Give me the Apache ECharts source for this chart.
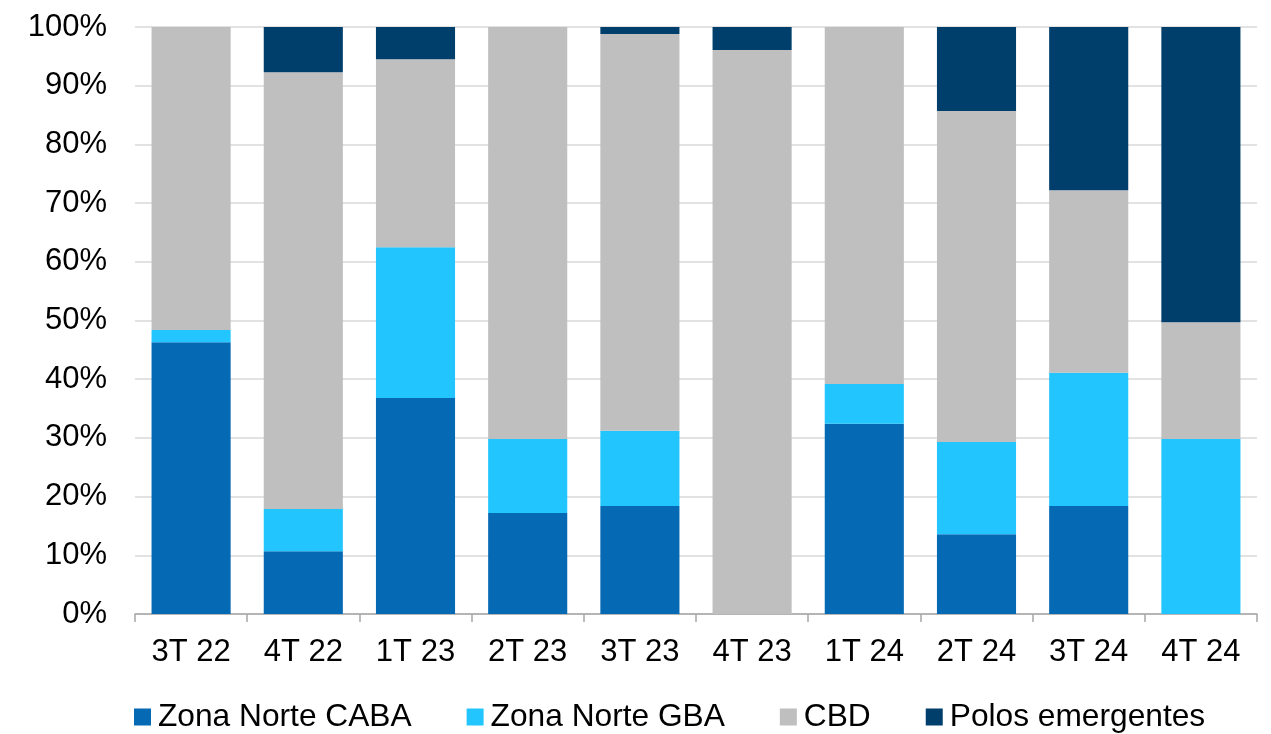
<!DOCTYPE html>
<html>
<head>
<meta charset="utf-8">
<script src="https://cdn.jsdelivr.net/npm/echarts@6/dist/echarts.min.js"></script>
<style>html,body{margin:0;padding:0;background:#fff;}#c{width:1271px;height:734px;}</style>
</head>
<body>
<div id="c"></div>
<script>
var categories = ['3T 22','4T 22','1T 23','2T 23','3T 23','4T 23','1T 24','2T 24','3T 24','4T 24'];
var zonaNorteCABA = [46.3, 10.7, 36.8, 17.2, 18.4, 0, 32.4, 13.6, 18.4, 0];
var zonaNorteGBA  = [2.1, 7.2, 25.7, 12.6, 12.8, 0, 6.8, 15.7, 22.7, 29.8];
var cbd           = [51.6, 74.4, 32.0, 70.2, 67.6, 96.1, 60.8, 56.4, 31.1, 19.9];
var polos         = [0, 7.7, 5.5, 0, 1.2, 3.9, 0, 14.3, 27.8, 50.3];
var yTicks = [0,10,20,30,40,50,60,70,80,90,100];

var font = 'Liberation Sans, Arial, sans-serif';
var chart = echarts.init(document.getElementById('c'));
function s(name, data, color){
  return {name:name, type:'bar', stack:'t', data:data, barCategoryGap:'29.5%',
          itemStyle:{color:color}, emphasis:{disabled:true}};
}
chart.setOption({
  animation:false,
  grid:{left:135, right:14, top:27, bottom:120},
  legend:{
    left:134, top:701, padding:0, itemWidth:17, itemHeight:17, itemGap:55,
    icon:'rect', textStyle:{fontFamily:font, fontSize:31.7, color:'#000', padding:[0,0,0,2]},
    data:['Zona Norte CABA','Zona Norte GBA','CBD','Polos emergentes']
  },
  xAxis:{type:'category', data:categories,
    axisLine:{lineStyle:{color:'#a6a6a6', width:1.5}},
    axisTick:{show:true, length:8, lineStyle:{color:'#a6a6a6', width:1.5}},
    axisLabel:{fontFamily:font, fontSize:31, color:'#000', margin:23}
  },
  yAxis:{type:'value', min:yTicks[0], max:yTicks[yTicks.length-1], interval:10,
    axisLine:{show:false}, axisTick:{show:false},
    splitLine:{lineStyle:{color:'#d9d9d9', width:1.5}},
    axisLabel:{fontFamily:font, fontSize:31, color:'#000', margin:28, formatter:'{value}%'}
  },
  series:[
    s('Zona Norte CABA', zonaNorteCABA, '#0569b3'),
    s('Zona Norte GBA', zonaNorteGBA, '#22c5fd'),
    s('CBD', cbd, '#bfbfbf'),
    s('Polos emergentes', polos, '#003f6c')
  ]
});
</script>
</body>
</html>
